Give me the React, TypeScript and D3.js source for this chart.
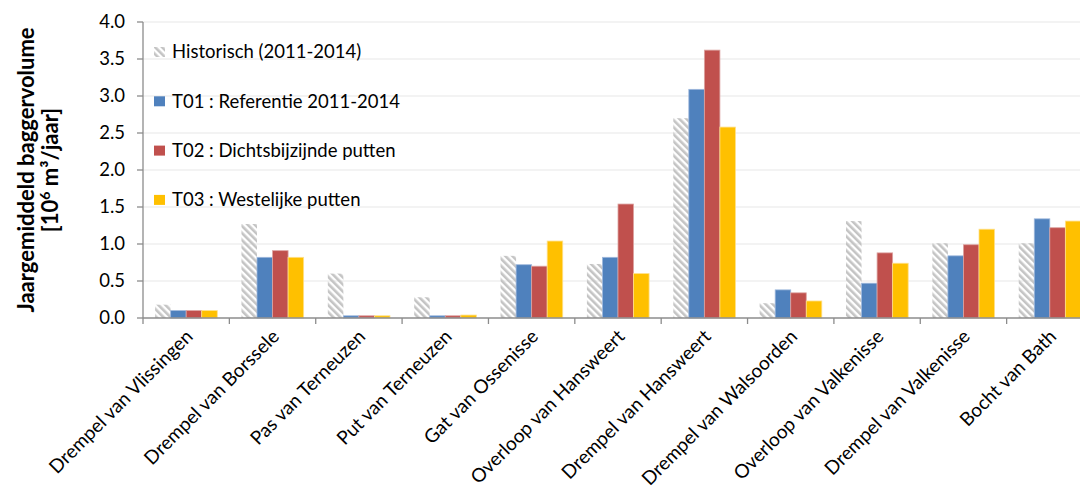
import React from "react";
import * as d3 from "d3";

const categories = [
  "Drempel van Vlissingen",
  "Drempel van Borssele",
  "Pas van Terneuzen",
  "Put van Terneuzen",
  "Gat van Ossenisse",
  "Overloop van Hansweert",
  "Drempel van Hansweert",
  "Drempel van Walsoorden",
  "Overloop van Valkenisse",
  "Drempel van Valkenisse",
  "Bocht van Bath",
];

const seriesNames = [
  "Historisch (2011-2014)",
  "T01 : Referentie 2011-2014",
  "T02 : Dichtsbijzijnde putten",
  "T03 : Westelijke putten",
];

const historisch = [0.18, 1.27, 0.6, 0.28, 0.84, 0.73, 2.7, 0.2, 1.31, 1.01, 1.01];
const t01 = [0.1, 0.82, 0.03, 0.03, 0.72, 0.82, 3.09, 0.38, 0.47, 0.84, 1.34];
const t02 = [0.1, 0.91, 0.03, 0.03, 0.7, 1.54, 3.62, 0.34, 0.88, 0.99, 1.22];
const t03 = [0.1, 0.82, 0.03, 0.04, 1.04, 0.6, 2.58, 0.23, 0.74, 1.2, 1.31];

const yTicks = [0, 0.5, 1.0, 1.5, 2.0, 2.5, 3.0, 3.5, 4.0];

const seriesValues = [historisch, t01, t02, t03];
const seriesFills = ["url(#hatch)", "#4F81BD", "#C0504D", "#FFC000"];
const seriesStrokes = ["none", "#9fb8dc", "#dca3a1", "#ffe08a"];

const W = 1082;
const H = 491;
const left = 143;
const right = 1093;
const top = 22;
const bottom = 318;

const FONT = "Lato, 'Open Sans', sans-serif";

export default function App() {
  const x = d3.scaleBand<string>().domain(categories).range([left, right]).paddingInner(0.28).paddingOuter(0.14);
  const xs = d3.scaleBand<number>().domain([0, 1, 2, 3]).range([0, x.bandwidth()]);
  const y = d3.scaleLinear().domain([0, 4]).range([bottom, top]);
  const step = x.step();

  return (
    <svg width={W} height={H} style={{ position: "absolute", left: 0, top: 0, background: "#fff" }} fontFamily={FONT}>
      <defs>
        <pattern id="hatch" patternUnits="userSpaceOnUse" width={5} height={5} patternTransform="rotate(-45)">
          <rect x={0} y={0} width={2.6} height={5} fill="#c4c4c4" />
        </pattern>
        <clipPath id="plotclip">
          <rect x={0} y={0} width={1080} height={H} />
        </clipPath>
      </defs>
      <g clipPath="url(#plotclip)">
        {yTicks.slice(1).map((t) => (
          <line key={t} x1={left} x2={right} y1={y(t)} y2={y(t)} stroke="#efefef" strokeWidth={1.3} />
        ))}
        {categories.map((c, i) => (
          <g key={c}>
            {seriesValues.map((vals, s) => (
              <rect
                key={s}
                x={(x(c) as number) + (xs(s) as number)}
                y={y(vals[i])}
                width={xs.bandwidth()}
                height={y(0) - y(vals[i])}
                fill={seriesFills[s]}
                stroke={seriesStrokes[s]}
                strokeWidth={0.8}
              />
            ))}
          </g>
        ))}
        <line x1={left} x2={right} y1={y(0)} y2={y(0)} stroke="#8c8c8c" strokeWidth={1.3} />
        {d3.range(categories.length + 1).map((i) => (
          <line key={i} x1={left + i * step} x2={left + i * step} y1={y(0)} y2={y(0) + 6} stroke="#8c8c8c" strokeWidth={1.3} />
        ))}
      </g>
      <line x1={left} x2={left} y1={top} y2={y(0)} stroke="#8c8c8c" strokeWidth={1.3} />
      {yTicks.map((t) => (
        <g key={t}>
          <line x1={left - 6} x2={left} y1={y(t)} y2={y(t)} stroke="#8c8c8c" strokeWidth={1.3} />
          <text x={125} y={y(t)} dy="0.35em" textAnchor="end" fontSize={18.5} fill="#000">
            {t.toFixed(1)}
          </text>
        </g>
      ))}
      {categories.map((c) => {
        const cx = (x(c) as number) + x.bandwidth() / 2 + 3;
        const cy = y(0) + 15;
        return (
          <text key={c} transform={`translate(${cx},${cy}) rotate(-45)`} textAnchor="end" dy="0.35em" fontSize={19} fill="#000">
            {c}
          </text>
        );
      })}
      <g transform="translate(26,170) rotate(-90)">
        <text x={0} y={0} textAnchor="middle" dy="0.35em" fontSize={22} fontWeight="bold" fill="#000">
          Jaargemiddeld baggervolume
        </text>
        <text x={0} y={24} textAnchor="middle" dy="0.35em" fontSize={22} fontWeight="bold" fill="#000">
          [10<tspan dy="-8" fontSize={14}>6</tspan>
          <tspan dy="8"> m³/jaar]</tspan>
        </text>
      </g>
      {seriesNames.map((n, i) => {
        const ly = 52 + i * 49.3;
        return (
          <g key={n}>
            <rect x={154} y={ly - 5} width={11} height={10} fill={seriesFills[i]} />
            <text x={172} y={ly} dy="0.35em" fontSize={18.5} fill="#000">
              {n}
            </text>
          </g>
        );
      })}
    </svg>
  );
}
